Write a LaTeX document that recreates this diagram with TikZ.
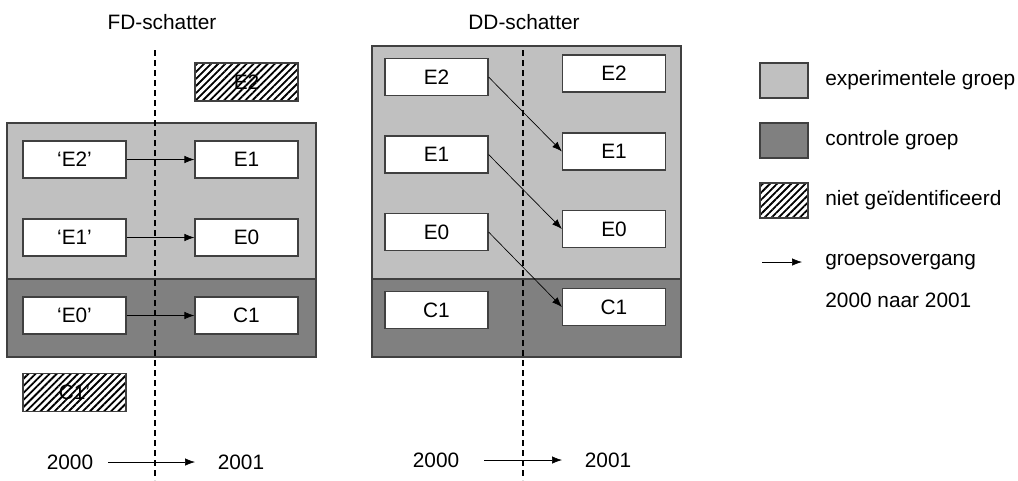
\documentclass[tikz,border=0pt]{standalone}
\usepackage{fontspec}
\setmainfont{Liberation Sans}
\usetikzlibrary{arrows.meta,patterns.meta}
\definecolor{expgrey}{HTML}{C0C0C0}
\definecolor{ctrlgrey}{HTML}{808080}
\definecolor{rim}{HTML}{404040}

\begin{document}
\begin{tikzpicture}[x=0.6pt,y=-0.6pt,>={Latex[length=6pt,width=4.5pt]},font=\fontsize{12.5}{15}\selectfont]
	\tikzstyle{box} = [draw=rim,fill=white,line width=0.7pt,minimum width=61.8pt,minimum height=22.2pt,inner sep=0pt]
	\tikzstyle{hatch} = [draw=rim,line width=0.7pt,pattern={Lines[angle=45,distance=3pt,line width=1.1pt]},minimum width=61.8pt,minimum height=22.8pt,inner sep=0pt]
	\tikzstyle{swatch} = [draw=rim,line width=0.7pt,minimum width=28.8pt,minimum height=21pt,inner sep=0pt]
	\tikzstyle{timeline} = [dashed,line width=0.8pt,dash pattern=on 3.5pt off 2.5pt]
	\tikzstyle{lbl} = [anchor=west,inner sep=0pt]
	\useasboundingbox (0,0) rectangle (1018,480);

	% FD-schatter
	\node (fdtitle) at (162,22) {FD-schatter};
	\draw[rim,line width=0.7pt,fill=expgrey] (7,123) rectangle (316,279);
	\draw[rim,line width=0.7pt,fill=ctrlgrey] (7,279) rectangle (316,357);
	\coordinate (fdtop) at (155,50);
	\coordinate (fdbot) at (155,480);
	\draw[timeline] (fdtop) -- (fdbot);

	\node[hatch] (fdhE2) at (246.5,82) {E2};
	\node[box] (fdaE2) at (74.5,159.5) {‘E2’};
	\node[box] (fdbE1) at (246.5,159.5) {E1};
	\node[box] (fdaE1) at (74.5,237.5) {‘E1’};
	\node[box] (fdbE0) at (246.5,237.5) {E0};
	\node[box] (fdaE0) at (74.5,315.5) {‘E0’};
	\node[box] (fdbC1) at (246.5,315.5) {C1};
	\node[hatch] (fdhC1) at (74.5,392.5) {C1’};

	\path (fdaE2) edge[->] (fdbE1);
	\path (fdaE1) edge[->] (fdbE0);
	\path (fdaE0) edge[->] (fdbC1);

	\node (fdy0) at (70,462) {2000};
	\node (fdy1) at (241,462) {2001};
	\coordinate (fdys) at (108,462);
	\coordinate (fdye) at (195,462);
	\draw[->] (fdys) -- (fdye);

	% DD-schatter
	\node (ddtitle) at (524,22) {DD-schatter};
	\draw[rim,line width=0.7pt,fill=expgrey] (372,46) rectangle (681,279);
	\draw[rim,line width=0.7pt,fill=ctrlgrey] (372,279) rectangle (681,357);
	\coordinate (ddtop) at (523,50);
	\coordinate (ddbot) at (523,480);
	\draw[timeline] (ddtop) -- (ddbot);

	\node[box] (ddaE2) at (436.5,77) {E2};
	\node[box] (ddaE1) at (436.5,154.5) {E1};
	\node[box] (ddaE0) at (436.5,232) {E0};
	\node[box] (ddaC1) at (436.5,310) {C1};
	\node[box] (ddbE2) at (614,73.5) {E2};
	\node[box] (ddbE1) at (614,151.5) {E1};
	\node[box] (ddbE0) at (614,229) {E0};
	\node[box] (ddbC1) at (614,307) {C1};

	\path (ddaE2.east) edge[->] (ddbE1.west);
	\path (ddaE1.east) edge[->] (ddbE0.west);
	\path (ddaE0.east) edge[->] (ddbC1.west);

	\node (ddy0) at (436,460) {2000};
	\node (ddy1) at (608,460) {2001};
	\coordinate (ddys) at (484,460);
	\coordinate (ddye) at (562,460);
	\draw[->] (ddys) -- (ddye);

	% legenda
	\node[swatch,fill=expgrey] (lgexp) at (784,80.5) {};
	\node[swatch,fill=ctrlgrey] (lgctrl) at (784,140.5) {};
	\node[swatch,pattern={Lines[angle=45,distance=3pt,line width=1.1pt]}] (lgnone) at (784,200.5) {};
	\coordinate (lgs) at (762,262);
	\coordinate (lge) at (802,262);
	\draw[->] (lgs) -- (lge);

	\node[lbl] (lgtexp) at (825,80.5) {experimentele groep};
	\node[lbl] (lgtctrl) at (825,140.5) {controle groep};
	\node[lbl] (lgtnone) at (825,200.5) {niet geïdentificeerd};
	\node[lbl] (lgtarr) at (825,262) {groepsovergang};
	\node[lbl] (lgtyear) at (825,300) {2000 naar 2001};
\end{tikzpicture}
\end{document}
